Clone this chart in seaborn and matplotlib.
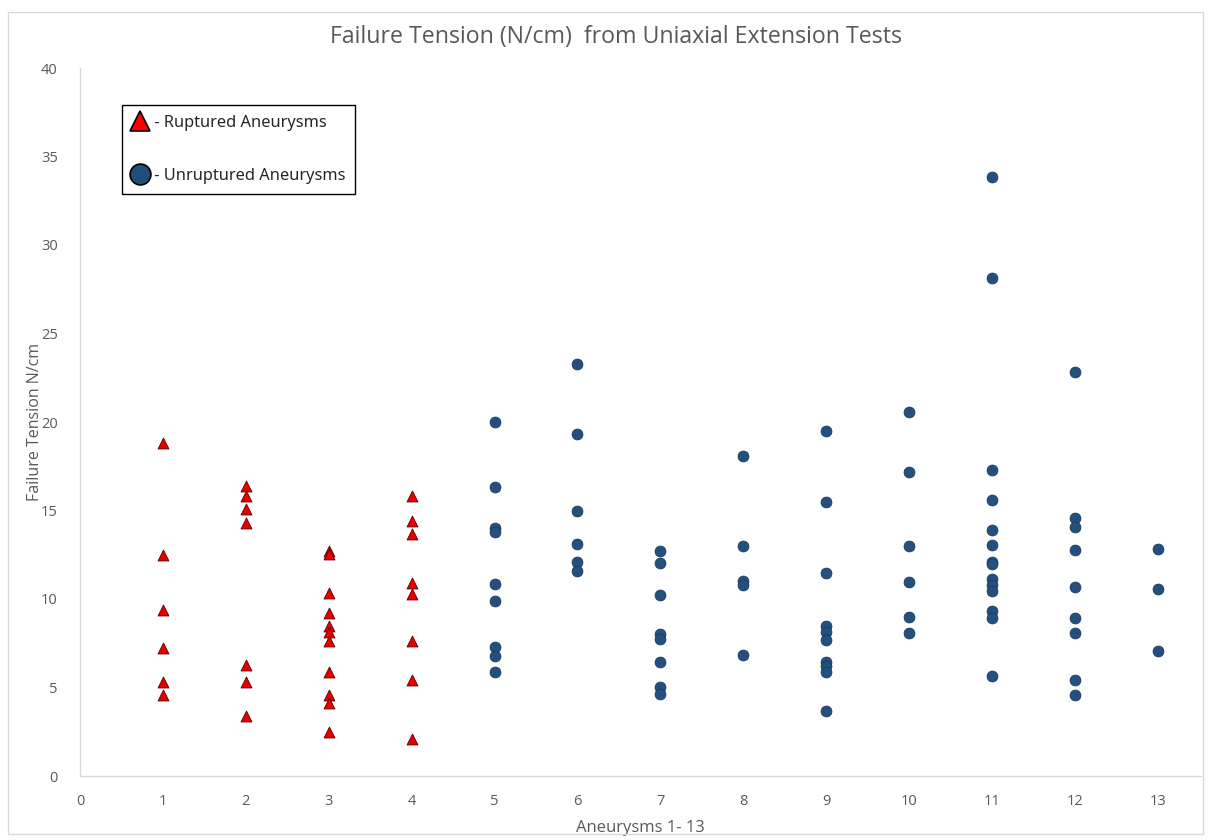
import matplotlib
matplotlib.use("Agg")
import matplotlib.pyplot as plt
import seaborn as sns
import pandas as pd
from matplotlib.lines import Line2D
from matplotlib.patches import Rectangle

# Failure tension (N/cm) of each specimen, grouped by aneurysm number
ruptured_1 = [18.8, 12.5, 9.4, 7.25, 5.3, 4.55]
ruptured_2 = [16.4, 15.8, 15.1, 14.3, 6.25, 5.3, 3.4]
ruptured_3 = [12.7, 12.55, 10.35, 9.2, 8.45, 8.15, 7.65, 5.9, 4.55, 4.1, 2.5]
ruptured_4 = [15.8, 14.4, 13.7, 10.9, 10.3, 7.65, 5.4, 2.1]

unruptured_5 = [20.0, 16.35, 14.0, 13.8, 10.85, 9.9, 7.3, 6.8, 5.9]
unruptured_6 = [23.3, 19.3, 14.95, 13.1, 12.1, 11.6]
unruptured_7 = [12.7, 12.05, 10.2, 8.05, 7.75, 6.45, 5.05, 4.65]
unruptured_8 = [18.1, 13.0, 11.0, 10.8, 6.85]
unruptured_9 = [19.5, 15.5, 11.45, 8.5, 8.15, 7.7, 6.45, 6.2, 5.85, 3.7]
unruptured_10 = [20.55, 17.2, 13.0, 10.95, 9.0, 8.1]
unruptured_11 = [33.85, 28.15, 17.3, 15.6, 13.9, 13.05, 12.1, 12.0, 11.15,
                 10.8, 10.45, 9.35, 8.9, 5.65]
unruptured_12 = [22.85, 14.55, 14.05, 12.75, 10.7, 8.95, 8.1, 5.4, 4.55]
unruptured_13 = [12.85, 10.55, 7.05]

groups = [
    (1, ruptured_1, "Ruptured"), (2, ruptured_2, "Ruptured"),
    (3, ruptured_3, "Ruptured"), (4, ruptured_4, "Ruptured"),
    (5, unruptured_5, "Unruptured"), (6, unruptured_6, "Unruptured"),
    (7, unruptured_7, "Unruptured"), (8, unruptured_8, "Unruptured"),
    (9, unruptured_9, "Unruptured"), (10, unruptured_10, "Unruptured"),
    (11, unruptured_11, "Unruptured"), (12, unruptured_12, "Unruptured"),
    (13, unruptured_13, "Unruptured"),
]
rows = [(n, v, s) for n, vals, s in groups for v in vals]
df = pd.DataFrame(rows, columns=["aneurysm", "tension", "status"])

RED = "#E60000"
BLUE = "#23507F"
GREY = "#595959"

sns.set_style("white")
plt.rcParams["font.family"] = ["Open Sans", "DejaVu Sans"]

fig = plt.figure(figsize=(12.11, 8.4), dpi=100)
ax = fig.add_axes([80 / 1211, 1 - 776 / 840, (1201 - 80) / 1211, (776 - 68) / 840])

sns.scatterplot(data=df[df.status == "Ruptured"], x="aneurysm", y="tension",
                marker="^", color=RED, edgecolor="#5a0000", linewidth=0.6,
                s=62, ax=ax, legend=False, zorder=3)
sns.scatterplot(data=df[df.status == "Unruptured"], x="aneurysm", y="tension",
                marker="o", color=BLUE, edgecolor="#1a3553", linewidth=0.5,
                s=62, ax=ax, legend=False, zorder=3)

ax.set_xlim(0, 13.52)
ax.set_ylim(0, 40)
ax.set_xticks(range(0, 14))
ax.set_yticks(range(0, 41, 5))
for lab in ax.get_xticklabels() + ax.get_yticklabels():
    lab.set_fontsize(10.5)
    lab.set_color(GREY)
ax.tick_params(axis="x", length=0, pad=13)
ax.tick_params(axis="y", length=0, pad=16)

for side in ["top", "right"]:
    ax.spines[side].set_visible(False)
for side in ["left", "bottom"]:
    ax.spines[side].set_color("#d9d9d9")
    ax.spines[side].set_linewidth(1.0)

ax.set_xlabel("Aneurysms 1- 13", fontsize=12, color=GREY, labelpad=8)
ax.set_ylabel("Failure Tension N/cm", fontsize=11.5, color=GREY)
ax.yaxis.set_label_coords((43 - 80) / 1121, 0.5)
fig.text(616 / 1211, 1 - 37 / 840, "Failure Tension (N/cm)  from Uniaxial Extension Tests",
         ha="center", va="center", fontsize=16.7, color=GREY)

handles = [
    Line2D([], [], linestyle="none", marker="^", markersize=15,
           markerfacecolor="#FF0000", markeredgecolor="black", markeredgewidth=1.2),
    Line2D([], [], linestyle="none", marker="o", markersize=15,
           markerfacecolor="#1F4E79", markeredgecolor="black", markeredgewidth=1.2),
]
leg = ax.legend(handles, [" - Ruptured Aneurysms", " - Unruptured Aneurysms"],
                loc="upper left", bbox_to_anchor=(122 / 1211, 1 - 105 / 840),
                bbox_transform=fig.transFigure, frameon=True, fancybox=False,
                edgecolor="black", framealpha=1, borderpad=0.6, labelspacing=2.25,
                handlelength=1.0, handletextpad=0.1, borderaxespad=0,
                prop={"family": ["Noto Sans", "DejaVu Sans"], "size": 11.8})
leg.get_frame().set_linewidth(1.0)

# Outer chart border
fig.patches.append(Rectangle((8 / 1211, 1 - 834 / 840), 1195 / 1211, 822 / 840,
                             transform=fig.transFigure, fill=False,
                             edgecolor="#d9d9d9", linewidth=1.0))

fig.savefig("out.png", dpi=100)
